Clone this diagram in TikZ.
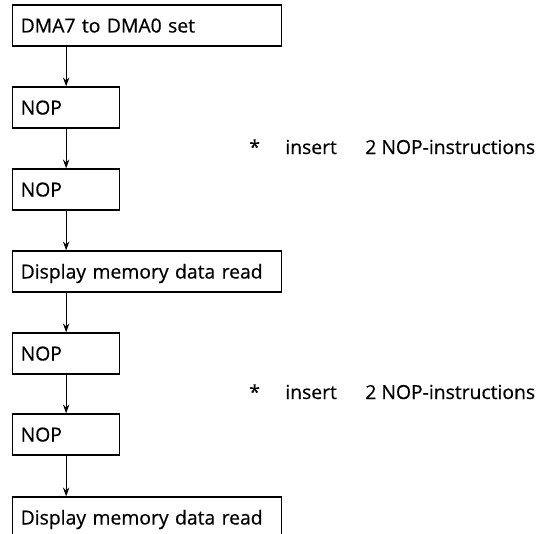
\documentclass[tikz,border=0pt]{standalone}
\usepackage{fontspec}
\setmainfont{Open Sans}[FakeBold=0.5]
\usetikzlibrary{arrows.meta}
\begin{document}
\begin{tikzpicture}[
    font=\fontsize{11}{13}\selectfont,
    >={Stealth[length=5pt,width=3.6pt]},
    paso/.style={
        draw,
        line width=0.75pt,
        anchor=west,
        inner xsep=0.16cm,
        text width=5.05cm,
        minimum height=0.82cm,
        text height=0.28cm,
        text depth=0pt,
        align=left
    },
    pasocorto/.style={
        paso,
        text width=1.82cm
    },
    flecha/.style={->,line width=0.7pt}
]
    \useasboundingbox (0,0) rectangle (10.82,-10.68);

    \node[paso] (dma) at (0.24,-0.51) {DMA7 to DMA0 set};
    \node[pasocorto] (nop-a) at (0.24,-2.15) {NOP};
    \node[pasocorto] (nop-b) at (0.24,-3.79) {NOP};
    \node[paso] (lectura-a) at (0.24,-5.43) {Display memory data read};
    \node[pasocorto] (nop-c) at (0.24,-7.07) {NOP};
    \node[pasocorto] (nop-d) at (0.24,-8.69) {NOP};
    \node[paso] (lectura-b) at (0.24,-10.35) {Display memory data read};

    \draw[flecha] (dma.south -| nop-a.north) -- (nop-a.north);
    \draw[flecha] (nop-a.south) -- (nop-b.north);
    \draw[flecha] (nop-b.south) -- (lectura-a.north -| nop-b.south);
    \draw[flecha] (lectura-a.south -| nop-c.north) -- (nop-c.north);
    \draw[flecha] (nop-c.south) -- (nop-d.north);
    \draw[flecha] (nop-d.south) -- (lectura-b.north -| nop-d.south);

    % notas a la derecha
    \node[anchor=base west,inner sep=0pt] (ast-a) at (4.98,-3.08) {*};
    \node[anchor=base west,inner sep=0pt] (ins-a) at (5.70,-3.08) {insert};
    \node[anchor=base west,inner sep=0pt] (nota-a) at (7.30,-3.08) {2 NOP-instructions};
    \node[anchor=base west,inner sep=0pt] (ast-b) at (4.98,-7.98) {*};
    \node[anchor=base west,inner sep=0pt] (ins-b) at (5.70,-7.98) {insert};
    \node[anchor=base west,inner sep=0pt] (nota-b) at (7.30,-7.98) {2 NOP-instructions};
\end{tikzpicture}
\end{document}
